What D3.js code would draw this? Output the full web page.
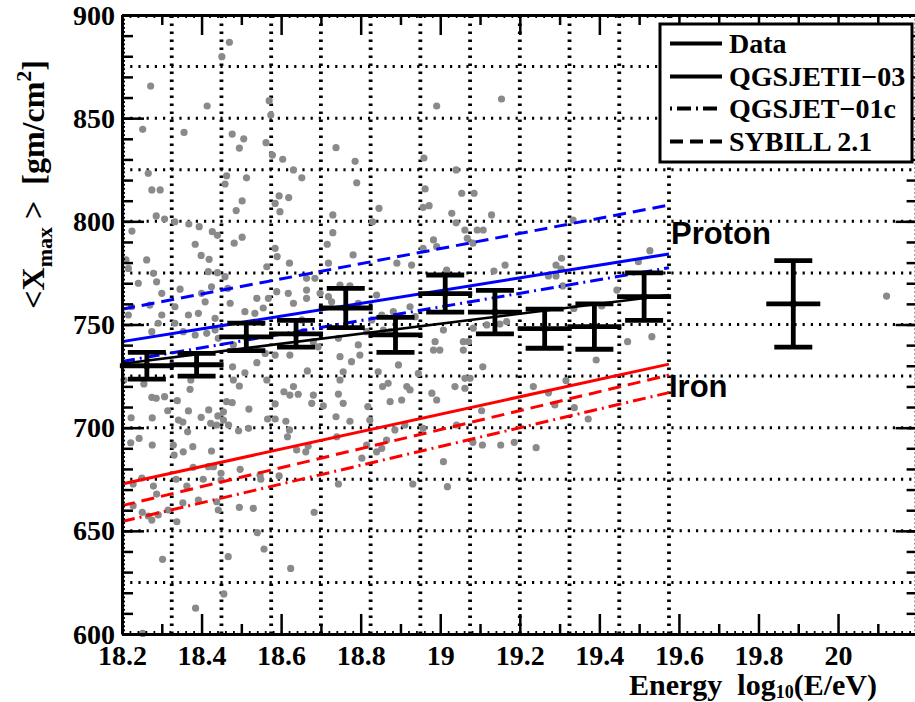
<!DOCTYPE html>
<html><head><meta charset="utf-8">
<script src="https://cdn.jsdelivr.net/npm/d3@7/dist/d3.min.js"></script>
<style>
html,body{margin:0;padding:0;background:#fff;}
svg{display:block;}
</style></head><body>
<svg id="chart" width="915" height="702"></svg>
<script>
// ---------------- DATA ----------------
// binned mean Xmax (Data)
const dataE   = [18.2625, 18.3875, 18.5125, 18.6375, 18.7625, 18.8875, 19.0125, 19.1375, 19.2625, 19.3875, 19.5125, 19.8875];
const dataX   = [730, 730.5, 744, 745.5, 758, 745, 765, 756, 748, 749, 763.5, 760];
const dataErr = [6.5, 5.5, 6.7, 6.5, 9.5, 8.5, 9, 10.5, 9.5, 11, 11.5, 21];

// straight-line predictions / fit, evaluated at the two ends
const lineE      = [18.2, 19.575];
const dataFit    = [731, 764.3];
const protonQII  = [741.7, 784.2];
const protonSib  = [757.4, 807.9];
const protonQ01  = [732.1, 777.5];
const ironQII    = [672.7, 730.8];
const ironSib    = [662.2, 725.5];
const ironQ01    = [654.5, 717.0];

// individual events [log10(E/eV), Xmax]
const eventPoints = [
[18.470,886.8],[18.451,879.8],[18.272,865.6],[18.414,855.9],[18.570,858.5],[18.574,851.5],[18.252,844.6],[18.356,843.1],[18.477,842.3],[18.506,840.0],[18.495,835.5],[18.562,838.1],[18.578,832.1],[18.604,830.1],[18.738,835.7],[18.786,829.1],[18.266,823.3],[18.275,815.2],[18.296,815.2],[18.463,822.1],[18.459,818.1],[18.513,821.1],[18.631,824.9],[18.652,821.1],[18.790,818.7],[18.585,808.7],[18.597,804.7],[18.619,811.5],[18.595,812.3],[18.502,809.9],[18.487,805.2],[18.286,802.6],[18.307,801.1],[18.333,799.8],[18.368,798.7],[18.394,797.4],[18.427,795.0],[18.440,793.2],[18.482,789.4],[18.502,792.3],[18.225,795.3],[18.210,781.3],[18.262,781.3],[18.730,803.1],[18.730,794.5],[18.846,806.3],[18.830,799.8],[18.716,788.9],[18.959,830.7],[18.962,815.7],[18.957,806.8],[18.972,807.6],[18.991,855.9],[18.983,791.0],[18.991,787.7],[18.957,786.9],[18.384,788.9],[18.399,783.5],[18.419,781.6],[18.417,775.6],[18.440,775.1],[18.459,773.2],[18.564,778.0],[18.585,786.9],[18.590,782.9],[18.621,779.7],[18.216,777.2],[18.279,774.8],
[18.241,770.0],[18.287,770.7],[18.300,765.1],[18.270,759.4],[18.333,758.6],[18.367,754.6],[18.392,755.4],[18.409,761.0],[18.400,765.1],[18.425,768.3],[18.300,754.6],[18.224,758.6],[18.291,750.6],[18.333,750.6],[18.275,746.5],[18.354,746.5],[18.384,744.9],[18.413,745.7],[18.434,753.0],[18.434,747.3],[18.442,743.3],[18.472,760.3],[18.509,756.2],[18.534,755.4],[18.539,762.7],[18.568,762.7],[18.618,765.1],[18.631,760.3],[18.664,766.7],[18.664,762.7],[18.216,754.6],[18.466,767.5],[18.589,765.9],[18.346,767.1],[18.555,758.0],[18.480,740.1],[18.560,736.0],[18.585,735.2],[18.622,735.2],
[18.781,783.7],[18.719,779.7],[18.891,779.7],[18.928,778.8],[19.016,776.4],[18.664,772.4],[18.685,772.4],[18.698,765.1],[18.719,763.5],[18.727,761.0],[18.748,769.1],[18.773,768.7],[18.794,760.3],[18.840,764.3],[18.828,752.2],[18.853,754.6],[18.882,756.2],[18.857,747.3],[18.874,746.5],[18.937,753.8],[18.924,758.6],[18.815,746.5],[18.744,743.3],[18.794,740.1],[18.693,739.2],[18.681,741.7],[18.748,734.4],[18.777,732.0],[18.895,730.4],[18.987,741.7],[18.983,737.6],[18.999,737.6],[19.008,747.3],[18.652,752.2],[18.656,746.5],[18.798,735.2],
[18.205,723.1],[18.255,721.2],[18.275,714.7],[18.286,714.2],[18.307,715.0],[18.315,708.2],[18.339,713.1],[18.371,718.6],[18.373,723.1],[18.223,704.8],[18.276,704.7],[18.342,703.7],[18.353,702.7],[18.367,708.1],[18.365,698.0],[18.399,705.0],[18.418,708.6],[18.423,702.1],[18.441,705.7],[18.455,707.7],[18.455,703.7],[18.438,701.3],[18.468,701.3],[18.463,712.6],[18.477,712.1],[18.480,723.1],[18.478,729.5],[18.509,726.6],[18.495,720.2],[18.519,709.0],[18.518,699.7],[18.493,698.5],[18.539,731.5],[18.564,723.1],[18.566,704.2],[18.585,704.2],[18.585,711.5],[18.607,717.4],[18.631,719.9],[18.643,716.2],[18.622,715.8],[18.612,703.1],[18.621,698.9],[18.616,695.6],[18.639,689.2],[18.668,691.1],[18.662,688.3],[18.677,711.8],[18.681,715.8],[18.666,727.5],[18.706,710.6],[18.744,716.3],[18.756,711.8],[18.748,723.1],[18.756,727.1],[18.738,705.3],[18.773,703.1],[18.818,710.2],[18.823,703.7],[18.844,727.1],[18.855,719.9],[18.869,721.5],[18.874,712.6],[18.903,713.4],[18.916,719.9],[18.924,718.3],[18.945,726.3],[18.957,699.7],[18.979,716.7],[18.991,713.4],[18.803,685.2],[18.815,691.6],[18.840,688.3],[18.853,690.0],[18.865,694.0],[18.886,698.9],[18.911,701.3],[18.740,695.6],[18.744,672.7],[18.931,672.7],[19.008,683.5],[19.018,671.4],[18.222,692.7],[18.243,694.8],[18.276,691.6],[18.329,691.6],[18.331,686.7],[18.354,688.3],[18.378,690.8],[18.425,688.7],[18.379,680.8],[18.417,681.1],[18.430,681.1],[18.449,677.9],[18.497,679.8],[18.449,674.6],[18.404,675.0],[18.363,671.7],[18.336,675.0],[18.279,671.7],[18.250,675.6],[18.228,672.7],[18.287,667.8],[18.228,662.2],[18.251,659.0],[18.266,657.2],[18.275,655.2],[18.291,657.7],[18.316,660.1],[18.338,654.4],[18.353,663.6],[18.392,664.9],[18.438,664.1],[18.442,660.1],[18.495,661.4],[18.530,660.9],[18.547,677.1],[18.549,675.0],[18.595,676.6],[18.540,649.1],[18.557,641.2],[18.467,637.5],[18.456,619.4],[18.302,636.2],[18.385,612.5],[18.252,600.3],[18.624,631.8],[18.683,659.0],
[19.154,859.3],[19.040,824.9],[19.054,813.6],[19.085,813.6],[19.029,803.9],[19.040,799.3],[19.062,795.8],[19.093,795.8],[19.108,795.8],[19.068,791.8],[19.082,789.4],[19.129,803.1],[19.163,778.8],[19.135,775.9],[19.334,800.6],[19.305,782.1],[19.291,778.8],[19.304,776.8],[19.272,773.5],[19.291,773.5],[19.308,768.7],[19.444,766.7],[19.498,780.4],[19.527,785.8],[19.336,757.8],[19.406,759.0],[19.117,749.8],[19.150,750.2],[19.167,751.4],[19.083,748.2],[19.058,741.7],[19.071,741.7],[19.471,741.7],[19.532,744.1],[20.122,763.8],
[19.058,737.6],[19.107,729.5],[19.062,723.9],[19.075,723.9],[19.037,719.9],[19.062,719.1],[19.104,708.2],[19.041,701.3],[19.082,692.9],[19.106,691.6],[19.152,691.6],[19.186,692.9],[19.241,690.3],[19.234,719.9],[19.272,716.9],[19.288,711.0],[19.316,722.8],[19.337,709.7],[19.372,704.2],[19.392,732.8]
];

// axes / grid
const xTickValues = [18.2, 18.4, 18.6, 18.8, 19.0, 19.2, 19.4, 19.6, 19.8, 20.0];
const xTickLabels = ["18.2", "18.4", "18.6", "18.8", "19", "19.2", "19.4", "19.6", "19.8", "20"];
const yTickValues = [600, 650, 700, 750, 800, 850, 900];
const yTickLabels = ["600", "650", "700", "750", "800", "850", "900"];
const binEdges = [18.325, 18.45, 18.575, 18.7, 18.825, 18.95, 19.075, 19.2, 19.325, 19.45, 19.575];
const gridXmax = [625, 650, 675, 700, 725, 750, 775, 800, 825, 850, 875];

const legendLabels = ["Data", "QGSJETII\u221203", "QGSJET\u221201c", "SYBILL 2.1"];

// ---------------- DRAWING ----------------
const svg = d3.select('#chart');
const L = 122, R = 917.6, T = 15, B = 634;
const x = d3.scaleLinear().domain([18.2, 20.2]).range([L, R]);
const y = d3.scaleLinear().domain([600, 900]).range([B, T]);
const serif = "'Liberation Serif','Times New Roman',serif";
const sans = "'Liberation Sans',Arial,Helvetica,sans-serif";

svg.append('rect').attr('width', 915).attr('height', 702).attr('fill', '#fff');

// grid
const grid = svg.append('g');
grid.selectAll('line.v').data(binEdges).join('line')
  .attr('x1', d => x(d)).attr('x2', d => x(d)).attr('y1', B).attr('y2', T)
  .attr('stroke', '#000').attr('stroke-width', 3.8).attr('stroke-dasharray', '2.4,5.6');
grid.selectAll('line.h').data(gridXmax).join('line')
  .attr('x1', L).attr('x2', R).attr('y1', d => y(d)).attr('y2', d => y(d))
  .attr('stroke', '#000').attr('stroke-width', 3).attr('stroke-dasharray', '2.2,6');

// events
svg.append('g').selectAll('circle').data(eventPoints).join('circle')
  .attr('cx', d => x(d[0])).attr('cy', d => y(d[1])).attr('r', 3.6)
  .attr('fill', '#8a8a8a');

// model lines
const lineGen = d3.line().x(d => x(d[0])).y(d => y(d[1]));
const models = [
  {v: protonSib, c: '#0000ff', dash: '13,7', w: 3},
  {v: protonQII, c: '#0000ff', dash: null, w: 3},
  {v: protonQ01, c: '#0000ff', dash: '13,5,2,5', w: 3},
  {v: ironQII, c: '#ff0000', dash: null, w: 3},
  {v: ironSib, c: '#ff0000', dash: '13,7', w: 3},
  {v: ironQ01, c: '#ff0000', dash: '13,5,2,5', w: 3},
  {v: dataFit, c: '#000', dash: null, w: 2.5}
];
svg.append('g').selectAll('path').data(models).join('path')
  .attr('d', m => lineGen(lineE.map((e, i) => [e, m.v[i]])))
  .attr('fill', 'none').attr('stroke', m => m.c).attr('stroke-width', m => m.w)
  .attr('stroke-dasharray', m => m.dash);

// data error bars
const capHalf = 19, barHalf = 27;
const eb = svg.append('g').selectAll('g').data(dataE.map((e, i) => ({e, v: dataX[i], s: dataErr[i]}))).join('g')
  .attr('stroke', '#000').attr('stroke-width', 4.8);
eb.append('line').attr('x1', d => x(d.e)).attr('x2', d => x(d.e)).attr('y1', d => y(d.v - d.s)).attr('y2', d => y(d.v + d.s));
eb.append('line').attr('x1', d => x(d.e) - capHalf).attr('x2', d => x(d.e) + capHalf).attr('y1', d => y(d.v + d.s)).attr('y2', d => y(d.v + d.s));
eb.append('line').attr('x1', d => x(d.e) - capHalf).attr('x2', d => x(d.e) + capHalf).attr('y1', d => y(d.v - d.s)).attr('y2', d => y(d.v - d.s));
eb.append('line').attr('x1', d => x(d.e) - barHalf).attr('x2', d => x(d.e) + barHalf).attr('y1', d => y(d.v)).attr('y2', d => y(d.v));
eb.append('circle').attr('cx', d => x(d.e)).attr('cy', d => y(d.v)).attr('r', 3.5).attr('fill', '#000').attr('stroke', 'none');

// labels Proton / Iron
svg.append('text').attr('x', 671).attr('y', 244).text('Proton')
  .attr('font-family', sans).attr('font-weight', 'bold').attr('font-size', 31);
svg.append('text').attr('x', 669).attr('y', 397).text('Iron')
  .attr('font-family', sans).attr('font-weight', 'bold').attr('font-size', 31);

// axes
function styleAxis(g) {
  g.selectAll('.tick line').attr('stroke', '#000').attr('stroke-width', 2.5);
  g.select('.domain').attr('stroke', '#000').attr('stroke-width', 3);
  g.selectAll('text').attr('font-family', serif).attr('font-weight', 'bold').attr('font-size', 28).attr('fill', '#000');
}
const xMinor = d3.range(18.3, 20.2, 0.2);
const xTiny = d3.range(18.2, 20.2001, 0.02);
const yMinor = d3.range(600, 901, 10);
const yTiny = d3.range(600, 901, 2);

function addTicks(axisFn, pos, vals, len, w) {
  const g = svg.append('g').attr('transform', pos)
    .call(axisFn.tickValues(vals).tickFormat('').tickSizeInner(-len).tickSizeOuter(0));
  g.select('.domain').remove();
  styleAxis(g);
  g.selectAll('.tick line').attr('stroke-width', w);
}
// bottom
addTicks(d3.axisBottom(x), `translate(0,${B})`, xTiny, 3, 1.8);
addTicks(d3.axisBottom(x), `translate(0,${B})`, xMinor, 10, 2.5);
const gb = svg.append('g').attr('transform', `translate(0,${B})`)
  .call(d3.axisBottom(x).tickValues(xTickValues).tickFormat((d, i) => xTickLabels[i]).tickSizeInner(-20).tickSizeOuter(0).tickPadding(11));
styleAxis(gb);
// top
addTicks(d3.axisTop(x), `translate(0,${T})`, xTiny, 3, 1.8);
addTicks(d3.axisTop(x), `translate(0,${T})`, xMinor, 10, 2.5);
const gt = svg.append('g').attr('transform', `translate(0,${T})`)
  .call(d3.axisTop(x).tickValues(xTickValues).tickFormat('').tickSizeInner(-20).tickSizeOuter(0));
styleAxis(gt);
// left
addTicks(d3.axisLeft(y), `translate(${L},0)`, yTiny, 3, 1.8);
addTicks(d3.axisLeft(y), `translate(${L},0)`, yMinor, 11, 2.5);
const gl = svg.append('g').attr('transform', `translate(${L},0)`)
  .call(d3.axisLeft(y).tickValues(yTickValues).tickFormat((d, i) => yTickLabels[i]).tickSizeInner(-22).tickSizeOuter(0).tickPadding(7));
styleAxis(gl);
gl.selectAll('text').attr('dy', 9);
// right
addTicks(d3.axisRight(y), `translate(${R},0)`, yTiny, 3, 1.8);
addTicks(d3.axisRight(y), `translate(${R},0)`, yMinor, 11, 2.5);
const gr = svg.append('g').attr('transform', `translate(${R},0)`)
  .call(d3.axisRight(y).tickValues(yTickValues).tickFormat('').tickSizeInner(-22).tickSizeOuter(0));
styleAxis(gr);

// axis titles
const yt = svg.append('text').attr('transform', 'translate(44,60) rotate(-90)')
  .attr('text-anchor', 'end').attr('font-family', serif).attr('font-weight', 'bold')
  .attr('font-size', 32).style('white-space', 'pre');
yt.append('tspan').text('<X');
yt.append('tspan').attr('font-size', 22).attr('dy', 8).text('max');
yt.append('tspan').attr('dy', -8).text(' >  [gm/cm');
yt.append('tspan').attr('font-size', 22).attr('dy', -13).text('2');
yt.append('tspan').attr('dy', 13).text(']');

const xt = svg.append('text').attr('x', 877).attr('y', 695)
  .attr('text-anchor', 'end').attr('font-family', serif).attr('font-weight', 'bold')
  .attr('font-size', 30).style('white-space', 'pre');
xt.append('tspan').text('Energy  log');
xt.append('tspan').attr('font-size', 18).attr('dy', 3).text('10');
xt.append('tspan').attr('dy', -3).text('(E/eV)');

// legend
const lg = svg.append('g');
lg.append('rect').attr('x', 660).attr('y', 24).attr('width', 252).attr('height', 138)
  .attr('fill', '#fff').attr('stroke', '#000').attr('stroke-width', 3);
const legDash = [null, null, '2,5,14,5', '13,7'];
const legRowY = [43.5, 76.5, 108.5, 141.5];
legendLabels.forEach((lab, i) => {
  lg.append('line').attr('x1', 670).attr('x2', 722).attr('y1', legRowY[i]).attr('y2', legRowY[i])
    .attr('stroke', '#000').attr('stroke-width', 4).attr('stroke-dasharray', legDash[i]);
  lg.append('text').attr('x', 729).attr('y', legRowY[i] + 9.5).text(lab)
    .attr('font-family', serif).attr('font-weight', 'bold').attr('font-size', 28);
});
</script>
</body></html>
